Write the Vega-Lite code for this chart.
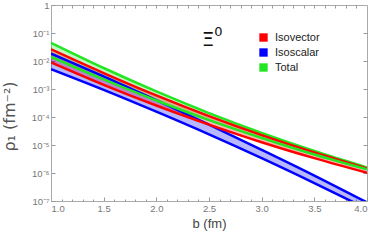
{
  "$schema": "https://vega.github.io/schema/vega-lite/v6.json",
  "width": 316,
  "height": 196,
  "autosize": "none",
  "padding": {"left": 51, "top": 5, "right": 7, "bottom": 39},
  "config": {
    "view": {"stroke": "#aaaaaa", "strokeWidth": 1},
    "font": "Liberation Sans",
    "axis": {"domainColor": "#aaaaaa", "tickColor": "#999999", "labelColor": "#777777", "labelFontSize": 9.5, "titleColor": "#555555", "titleFontWeight": "normal", "grid": false}
  },
  "resolve": {"axis": {"x": "independent", "y": "independent"}},
  "datasets": {
    "bands": [
      {"series": "Total", "b": 1.0, "hi": 0.0447, "lo": 0.0141},
      {"series": "Total", "b": 1.5, "hi": 0.00562, "lo": 0.00219},
      {"series": "Total", "b": 2.0, "hi": 0.000818, "lo": 0.000389},
      {"series": "Total", "b": 2.5, "hi": 0.000138, "lo": 7.76e-5},
      {"series": "Total", "b": 3.0, "hi": 2.69e-5, "lo": 1.78e-5},
      {"series": "Total", "b": 3.5, "hi": 6.08e-6, "lo": 4.57e-6},
      {"series": "Total", "b": 4.0, "hi": 1.58e-6, "lo": 1.35e-6},
      {"series": "Isovector", "b": 1.0, "hi": 0.0263, "lo": 0.00891},
      {"series": "Isovector", "b": 1.5, "hi": 0.00372, "lo": 0.00141},
      {"series": "Isovector", "b": 2.0, "hi": 0.000589, "lo": 0.000257},
      {"series": "Isovector", "b": 2.5, "hi": 0.000107, "lo": 5.37e-5},
      {"series": "Isovector", "b": 3.0, "hi": 2.24e-5, "lo": 1.26e-5},
      {"series": "Isovector", "b": 3.5, "hi": 5.37e-6, "lo": 3.39e-6},
      {"series": "Isovector", "b": 4.0, "hi": 1.45e-6, "lo": 1.02e-6},
      {"series": "Isoscalar", "b": 1.0, "hi": 0.0186, "lo": 0.00513},
      {"series": "Isoscalar", "b": 1.5, "hi": 0.00282, "lo": 0.000933},
      {"series": "Isoscalar", "b": 2.0, "hi": 0.000398, "lo": 0.000155},
      {"series": "Isoscalar", "b": 2.5, "hi": 5.37e-5, "lo": 2.40e-5},
      {"series": "Isoscalar", "b": 3.0, "hi": 6.76e-6, "lo": 3.39e-6},
      {"series": "Isoscalar", "b": 3.5, "hi": 8.13e-7, "lo": 4.37e-7},
      {"series": "Isoscalar", "b": 4.0, "hi": 8.91e-8, "lo": 5.25e-8}
    ]
  },
  "layer": [
    {
      "data": {"name": "bands"},
      "mark": {"type": "area", "clip": true, "interpolate": "monotone", "fillOpacity": 0.28},
      "encoding": {
        "x": {"field": "b", "type": "quantitative", "scale": {"domain": [1, 4], "nice": false},
          "axis": {"orient": "bottom", "values": [1, 1.5, 2, 2.5, 3, 3.5, 4], "format": ".1f", "tickSize": -4, "labelPadding": 6, "title": "b (fm)", "titleFontSize": 13, "titlePadding": 5, "titleColor": "#444444"}},
        "y": {"field": "hi", "type": "quantitative", "scale": {"type": "log", "domain": [1e-7, 1], "nice": false},
          "axis": {"orient": "left", "values": [1e-7, 1e-6, 1e-5, 1e-4, 1e-3, 1e-2, 1e-1, 1], "tickSize": -4, "labelPadding": 6,
            "labelExpr": "datum.value >= 0.5 ? '1' : '10⁻' + ['', '¹', '²', '³', '⁴', '⁵', '⁶', '⁷'][round(-log(datum.value) / LN10)]",
            "title": "ρ₁ (fm⁻²)", "titleFont": "DejaVu Sans", "titleFontSize": 16, "titleX": -34, "titleY": 111, "titleColor": "#555555"}},
        "y2": {"field": "lo"},
        "color": {"field": "series", "type": "nominal",
          "scale": {"domain": ["Isovector", "Isoscalar", "Total"], "range": ["#ff0000", "#0000ff", "#22e622"]},
          "legend": {"title": null, "orient": "none", "legendX": 207, "legendY": 27, "symbolType": "square", "symbolSize": 70, "symbolOpacity": 1, "symbolStrokeWidth": 0, "labelFontSize": 11, "labelColor": "#222222", "rowPadding": 3, "labelOffset": 6}}
      }
    },
    {
      "data": {"name": "bands"},
      "mark": {"type": "line", "clip": true, "interpolate": "monotone", "strokeWidth": 2.5},
      "encoding": {
        "x": {"field": "b", "type": "quantitative",
          "axis": {"orient": "bottom", "values": [1.1, 1.2, 1.3, 1.4, 1.6, 1.7, 1.8, 1.9, 2.1, 2.2, 2.3, 2.4, 2.6, 2.7, 2.8, 2.9, 3.1, 3.2, 3.3, 3.4, 3.6, 3.7, 3.8, 3.9], "tickSize": -2, "labels": false, "domain": false, "title": null}},
        "y": {"field": "hi", "type": "quantitative", "axis": null},
        "color": {"field": "series", "type": "nominal", "legend": null}
      }
    },
    {
      "data": {"name": "bands"},
      "mark": {"type": "line", "clip": true, "interpolate": "monotone", "strokeWidth": 2.5},
      "encoding": {
        "x": {"field": "b", "type": "quantitative",
          "axis": {"orient": "top", "values": [1.1, 1.2, 1.3, 1.4, 1.5, 1.6, 1.7, 1.8, 1.9, 2, 2.1, 2.2, 2.3, 2.4, 2.5, 2.6, 2.7, 2.8, 2.9, 3, 3.1, 3.2, 3.3, 3.4, 3.5, 3.6, 3.7, 3.8, 3.9], "tickSize": -3, "labels": false, "domain": false, "title": null}},
        "y": {"field": "lo", "type": "quantitative", "axis": null},
        "color": {"field": "series", "type": "nominal", "legend": null}
      }
    },
    {
      "data": {"values": [{"b": 2.43, "v": 0.056, "t": "Ξ", "s": 20}, {"b": 2.55, "v": 0.105, "t": "0", "s": 13}]},
      "mark": {"type": "text", "align": "left", "baseline": "middle", "font": "DejaVu Sans", "color": "#111111"},
      "encoding": {
        "x": {"field": "b", "type": "quantitative", "axis": null},
        "y": {"field": "v", "type": "quantitative",
          "axis": {"orient": "right", "values": [1e-7, 1e-6, 1e-5, 1e-4, 1e-3, 1e-2, 1e-1], "tickSize": -4, "labels": false, "domain": false, "title": null}},
        "text": {"field": "t"},
        "size": {"field": "s", "type": "quantitative", "scale": null, "legend": null}
      }
    }
  ]
}
